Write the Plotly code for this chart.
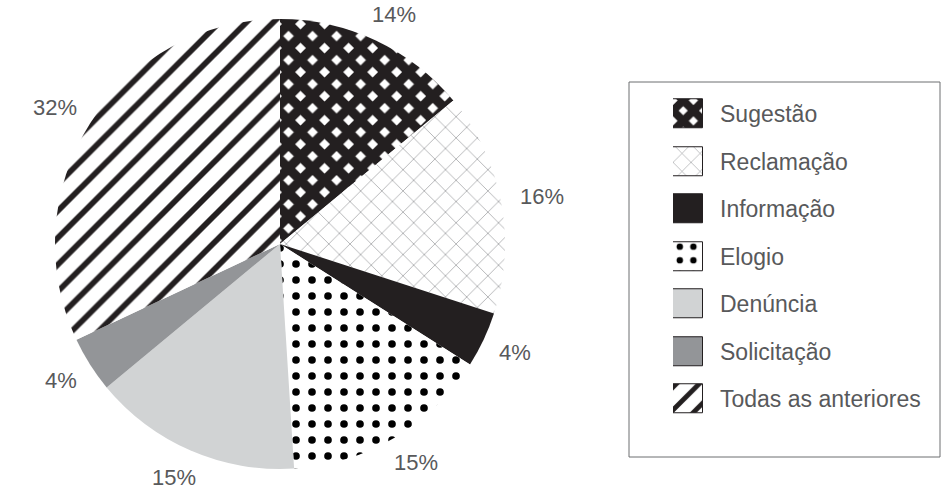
import math
import plotly.graph_objects as go

categories = ["Sugestão", "Reclamação", "Informação", "Elogio", "Denúncia", "Solicitação", "Todas as anteriores"]
values = [14, 16, 4, 15, 15, 4, 32]
pct_labels = [f"{v}%" for v in values]

W, H = 943, 490
cx, cy, R = 280, 244, 225
text_color = "#58595b"
font_family = "Liberation Sans, Arial"
label_size = 22

base_colors = ["#ffffff", "#ffffff", "#231f20", "#ffffff", "#d1d3d4", "#939598", "#ffffff"]
pat_shapes = ["x", "x", "", ".", "", "", "/"]
pat_fg = ["#231f20", "#8a8c8f", "#231f20", "#000000", "#d1d3d4", "#939598", "#231f20"]
pat_size = [17, 15, 10, 16, 10, 10, 19]
pat_sol = [0.8, 0.08, 0.3, 0.18, 0.3, 0.3, 0.3]

pie_pattern = dict(shape=pat_shapes, fgcolor=pat_fg, bgcolor=base_colors, size=pat_size,
                   solidity=pat_sol, fillmode="replace")

fig = go.Figure()
fig.add_trace(go.Pie(
    labels=categories, values=values, sort=False, direction="clockwise", rotation=0,
    textinfo="none", showlegend=False, hoverinfo="label+percent",
    marker=dict(colors=base_colors, pattern=pie_pattern, line=dict(width=0)),
    domain=dict(x=[(cx - R) / W, (cx + R) / W], y=[(H - cy - R) / H, (H - cy + R) / H]),
))

# percentage labels outside the pie: text box pushed out along each slice's mid-angle
annotations = []
total = sum(values)
cum = 0
gap = 20
half_h = 9
for v, t in zip(values, pct_labels):
    th = 2 * math.pi * (cum + v / 2) / total
    cum += v
    half_w = len(t) * 0.33 * label_size
    sx, sy = math.sin(th), -math.cos(th)
    px = cx + (R + gap) * sx + half_w * sx
    py = cy + (R + gap) * sy + half_h * sy
    annotations.append(dict(x=px / W, y=(H - py) / H, xref="paper", yref="paper",
                            text=t, showarrow=False, xanchor="center", yanchor="middle",
                            font=dict(size=label_size, color=text_color, family=font_family)))

# custom legend: swatches as bars
item_top, item_step = 114, 47.5
n = len(categories)
y0_px = item_top - item_step / 2
y1_px = item_top + item_step * (n - 1) + item_step / 2
for i, c in enumerate(categories):
    mk = dict(color=base_colors[i], line=dict(color="#231f20", width=1))
    if pat_shapes[i]:
        mk["pattern"] = dict(shape=pat_shapes[i], fgcolor=pat_fg[i], bgcolor=base_colors[i],
                             size=pat_size[i] * 0.85, solidity=pat_sol[i], fillmode="replace")
    fig.add_trace(go.Bar(
        orientation="h", x=[1], y=[c], xaxis="x", yaxis="y",
        width=29 / item_step, showlegend=False, hoverinfo="skip", marker=mk,
    ))
    annotations.append(dict(x=718 / W, y=c, xref="paper", yref="y", text=c, showarrow=False,
                            xanchor="left", yanchor="middle",
                            font=dict(size=23, color=text_color, family=font_family)))

fig.update_layout(
    width=W, height=H, margin=dict(l=0, r=0, t=0, b=0),
    paper_bgcolor="white", plot_bgcolor="white",
    xaxis=dict(domain=[673 / W, 703 / W], range=[0, 1], visible=False, fixedrange=True),
    yaxis=dict(domain=[(H - y1_px) / H, (H - y0_px) / H], range=[n - 0.5, -0.5],
               categoryorder="array", categoryarray=categories, visible=False, fixedrange=True),
    annotations=annotations,
    shapes=[dict(type="rect", xref="paper", yref="paper", x0=629 / W, x1=940 / W,
                 y0=(H - 457) / H, y1=(H - 82) / H, line=dict(color="#6d6e71", width=1))],
    bargap=0, barmode="overlay",
)

fig.write_html("out.html")
